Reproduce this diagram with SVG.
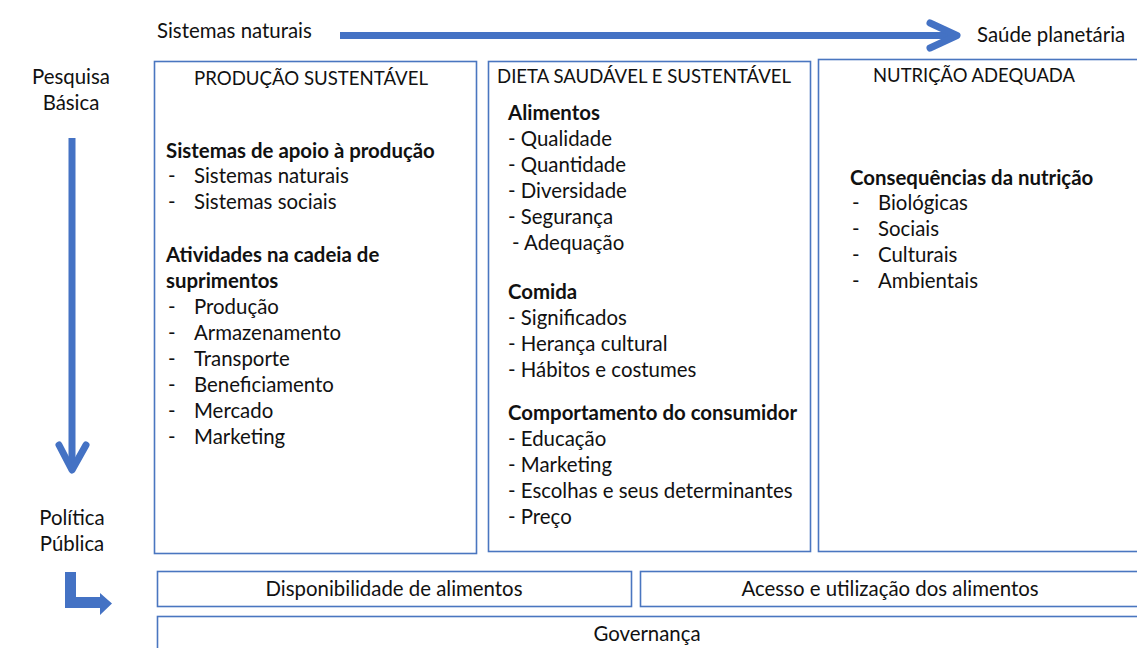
<svg xmlns="http://www.w3.org/2000/svg" width="1137" height="648" viewBox="0 0 1137 648">
<style>
text{font-family:Lato,"Open Sans","Liberation Sans",sans-serif;font-size:20.4px;fill:#111}
.b{font-weight:bold}
.c{text-anchor:middle}
.t{font-size:18.7px}
.box{fill:#fff;stroke:#4a76c0;stroke-width:1.6}
.arr{fill:none;stroke:#4472c4;stroke-width:7;stroke-linecap:round;stroke-linejoin:round}
</style>
<rect width="1137" height="648" fill="#fff"/>
<g id="connectors">
<path class="arr" d="M340 35.5H953" style="stroke-linecap:butt"/>
<path class="arr" d="M930 23L957 35.5L930 48"/>
<path class="arr" d="M72 138V468" style="stroke-linecap:butt"/>
<path class="arr" d="M59 445L72 470L86 445"/>
<path d="M65 572H76V597H100V593L112 603.5L100 615V608H65Z" fill="#4472c4"/>
</g>
<g id="label-top">
<text x="157" y="38">Sistemas naturais</text>
<text x="977" y="42">Saúde planetária</text>
</g>
<g id="label-pesquisa">
<text class="c" x="71" y="84">Pesquisa</text>
<text class="c" x="71" y="110">Básica</text>
</g>
<g id="label-politica">
<text class="c" x="72" y="525">Política</text>
<text class="c" x="72" y="551">Pública</text>
</g>
<g id="producao">
<rect class="box" x="154.5" y="61.5" width="322" height="492"/>
<text class="t" x="194" y="85" textLength="234" lengthAdjust="spacingAndGlyphs">PRODUÇÃO SUSTENTÁVEL</text>
<text class="b" x="166" y="158">Sistemas de apoio à produção</text>
<text x="168" y="183">-</text><text x="194" y="183">Sistemas naturais</text>
<text x="168" y="209">-</text><text x="194" y="209">Sistemas sociais</text>
<text class="b" x="166" y="262">Atividades na cadeia de</text>
<text class="b" x="166" y="288">suprimentos</text>
<text x="168" y="314">-</text><text x="194" y="314">Produção</text>
<text x="168" y="340">-</text><text x="194" y="340">Armazenamento</text>
<text x="168" y="366">-</text><text x="194" y="366">Transporte</text>
<text x="168" y="392">-</text><text x="194" y="392">Beneficiamento</text>
<text x="168" y="418">-</text><text x="194" y="418">Mercado</text>
<text x="168" y="444">-</text><text x="194" y="444">Marketing</text>
</g>
<g id="dieta">
<rect class="box" x="488.5" y="61.5" width="322" height="490"/>
<text class="t" x="497" y="83" textLength="294" lengthAdjust="spacingAndGlyphs">DIETA SAUDÁVEL E SUSTENTÁVEL</text>
<text class="b" x="508" y="120">Alimentos</text>
<text x="508" y="146">- Qualidade</text>
<text x="508" y="172">- Quantidade</text>
<text x="508" y="198">- Diversidade</text>
<text x="508" y="224">- Segurança</text>
<text x="512" y="250">- Adequação</text>
<text class="b" x="508" y="299">Comida</text>
<text x="508" y="325">- Significados</text>
<text x="508" y="351">- Herança cultural</text>
<text x="508" y="377">- Hábitos e costumes</text>
<text class="b" x="508" y="420">Comportamento do consumidor</text>
<text x="508" y="446">- Educação</text>
<text x="508" y="472">- Marketing</text>
<text x="508" y="498">- Escolhas e seus determinantes</text>
<text x="508" y="524">- Preço</text>
</g>
<g id="nutricao">
<rect class="box" x="818.5" y="59.5" width="330" height="492"/>
<text class="t" x="873" y="82" textLength="202" lengthAdjust="spacingAndGlyphs">NUTRIÇÃO ADEQUADA</text>
<text class="b" x="850" y="185">Consequências da nutrição</text>
<text x="852" y="210">-</text><text x="878" y="210">Biológicas</text>
<text x="852" y="236">-</text><text x="878" y="236">Sociais</text>
<text x="852" y="262">-</text><text x="878" y="262">Culturais</text>
<text x="852" y="288">-</text><text x="878" y="288">Ambientais</text>
</g>
<g id="disponibilidade">
<rect class="box" x="157.5" y="571.5" width="474" height="35"/>
<text class="c" x="394" y="596">Disponibilidade de alimentos</text>
</g>
<g id="acesso">
<rect class="box" x="640.5" y="571.5" width="510" height="35"/>
<text class="c" x="890" y="596">Acesso e utilização dos alimentos</text>
</g>
<g id="governanca">
<rect class="box" x="157.5" y="616.5" width="990" height="40"/>
<text class="c" x="647" y="641">Governança</text>
</g>
</svg>
